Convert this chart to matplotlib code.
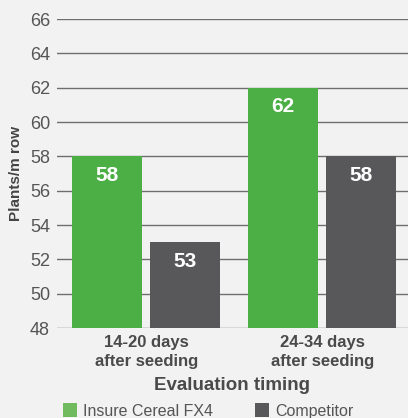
import matplotlib
matplotlib.use("Agg")
import matplotlib.pyplot as plt
from matplotlib.patches import Rectangle

categories = ["14-20 days\nafter seeding", "24-34 days\nafter seeding"]
series_names = ["Insure Cereal FX4", "Competitor"]
insure = [58, 62]
competitor = [53, 58]
yticks = [48, 50, 52, 54, 56, 58, 60, 62, 64, 66]

green = "#4caf45"
green_legend = "#70bb5e"
grey = "#58585a"
bg = "#f2f2f2"

plt.rcParams['font.family'] = ['Liberation Sans', 'DejaVu Sans']

W, H = 408, 418
fig = plt.figure(figsize=(W/100, H/100), dpi=100, facecolor=bg)
ax = fig.add_axes([57/W, 1-328/H, (W-57)/W, (328-19)/H])
ax.set_facecolor(bg)

x = list(range(len(categories)))
bw = 0.399
off = 0.222
b1 = ax.bar([i - off for i in x], insure, bw, color=green, zorder=3)
b2 = ax.bar([i + off for i in x], competitor, bw, color=grey, zorder=3)
for bars in (b1, b2):
    for r in bars:
        ax.text(r.get_x() + r.get_width()/2, r.get_height() - 0.55, f"{int(r.get_height())}",
                ha='center', va='top', color='white', fontsize=15, fontweight='bold', zorder=4)

ax.set_ylim(48, 66)
ax.set_xlim(-0.507, 1.487)
ax.set_yticks(yticks)
ax.yaxis.grid(True, color="#6e6e6e", linewidth=1.0, zorder=1)
ax.set_axisbelow(True)
for s in ax.spines.values():
    s.set_visible(False)
ax.tick_params(axis='y', length=0, pad=5, labelsize=13, labelcolor="#555555")
ax.set_xticks(x)
ax.set_xticklabels(categories, fontsize=12, fontweight='bold', color="#4a4a4a", linespacing=1.3)
ax.tick_params(axis='x', length=0, pad=5)
ax.set_ylabel("Plants/m row", fontsize=11, fontweight='bold', color="#444444", labelpad=5)
ax.set_xlabel("Evaluation timing", fontsize=13.5, fontweight='bold', color="#4a4a4a", labelpad=6)

# legend drawn manually
leg_colors = [green_legend, grey]
leg_x = [63, 255]
for name, c, lx in zip(series_names, leg_colors, leg_x):
    fig.patches.append(Rectangle((lx/W, 1-417/H), 14/W, 14/H, transform=fig.transFigure,
                                 facecolor=c, edgecolor='none'))
    fig.text((lx+20)/W, 1-416/H, name, ha='left', va='baseline', fontsize=11.5, color="#555555")

fig.savefig("out.png", dpi=100, facecolor=bg)
